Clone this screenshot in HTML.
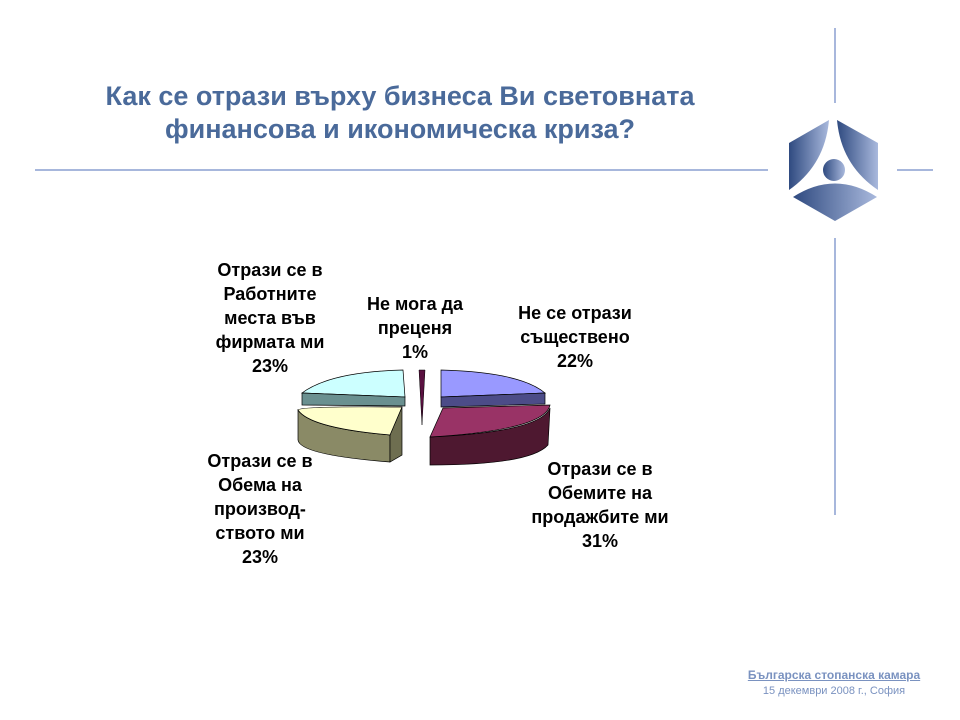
<!DOCTYPE html>
<html><head><meta charset="utf-8"><style>
body{margin:0;width:960px;height:720px;background:#fff;position:relative;overflow:hidden;font-family:"Liberation Sans",Arial,sans-serif}
.t{position:absolute;font-weight:bold;color:#4a6a9a;font-size:27px;text-align:center;line-height:33px;left:40px;width:720px;top:80px}
.l{position:absolute;font-weight:bold;font-size:18px;line-height:24px;text-align:center;color:#000}
.f{position:absolute;right:26px;text-align:center;color:#7a92c0;font-size:12px}
</style></head><body>
<div class="t">Как се отрази върху бизнеса Ви световната<br>финансова и икономическа криза?</div>
<svg width="960" height="720" style="position:absolute;left:0;top:0">
<defs><linearGradient id="g" x1="0" x2="1"><stop offset="0" stop-color="#2f4a80"/><stop offset="1" stop-color="#a9b9dd"/></linearGradient></defs>
<line x1="35" y1="170" x2="768" y2="170" stroke="#8a9fd0" stroke-width="1.5"/>
<line x1="897" y1="170" x2="933" y2="170" stroke="#8a9fd0" stroke-width="1.5"/>
<line x1="835" y1="28" x2="835" y2="103" stroke="#8a9fd0" stroke-width="1.5"/>
<line x1="835" y1="238" x2="835" y2="515" stroke="#8a9fd0" stroke-width="1.5"/>
<path d="M789,143 L829,120 Q825,165 789,190 Z" fill="url(#g)"/>
<path d="M837,120 L878,143 L878,190 Q841,165 837,120 Z" fill="url(#g)"/>
<path d="M793,197 Q835,170 877,197 L835,221 Z" fill="url(#g)"/>
<circle cx="834" cy="170" r="11" fill="url(#g)"/>
<path d="M302,393 Q330,372 403,370 L405,397 Z" fill="#ccffff" stroke="#000" stroke-width="0.7"/>
<path d="M302,393 L405,397 L405,406 L302,405 Z" fill="#6a9090" stroke="#000" stroke-width="0.7"/>
<path d="M298,440 Q300,455 390,462 L390,435 Q310,428 298,410 Z" fill="#8a8a66" stroke="#000" stroke-width="0.7"/>
<path d="M390,435 L402,407 L402,455 L390,462 Z" fill="#6e6e50" stroke="#000" stroke-width="0.7"/>
<path d="M298,410 Q300,406 402,407 L390,435 Q310,428 298,410 Z" fill="#ffffcc" stroke="#000" stroke-width="0.7"/>
<path d="M419,370 L425,370 L422,425 Z" fill="#5a1040" stroke="#000" stroke-width="0.5"/>
<path d="M441,370 Q520,372 545,393 L441,397 Z" fill="#9999ff" stroke="#000" stroke-width="0.7"/>
<path d="M441,397 L545,393 L545,404 L441,407 Z" fill="#4c4c88" stroke="#000" stroke-width="0.7"/>
<path d="M430,437 L430,465 Q530,465 548,445 L550,408 Q540,432 430,437 Z" fill="#4e1830" stroke="#000" stroke-width="0.7"/>
<path d="M443,408 L550,405 Q545,430 430,437 Z" fill="#993366" stroke="#000" stroke-width="0.7"/>
</svg>
<div class="l" style="left:185px;top:258px;width:170px">Отрази се в<br>Работните<br>места във<br>фирмата ми<br>23%</div>
<div class="l" style="left:335px;top:292px;width:160px">Не мога да<br>преценя<br>1%</div>
<div class="l" style="left:485px;top:301px;width:180px">Не се отрази<br>съществено<br>22%</div>
<div class="l" style="left:510px;top:457px;width:180px">Отрази се в<br>Обемите на<br>продажбите ми<br>31%</div>
<div class="l" style="left:180px;top:449px;width:160px">Отрази се в<br>Обема на<br>производ-<br>ството ми<br>23%</div>
<div class="f" style="top:668px;width:200px;font-weight:bold;text-decoration:underline">Българска стопанска камара</div>
<div class="f" style="top:685px;width:200px;font-size:11px">15 декември 2008 г., София</div>
</body></html>
